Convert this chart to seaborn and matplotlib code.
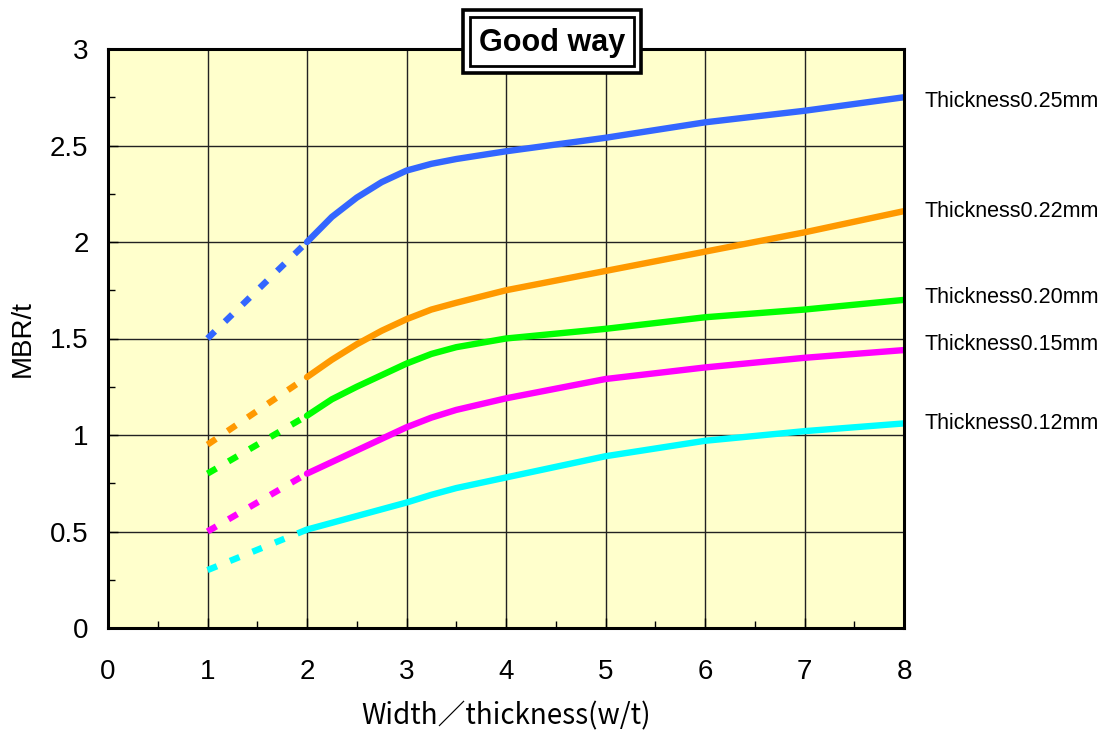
import numpy as np
import pandas as pd
import matplotlib
matplotlib.use('Agg')
import matplotlib.pyplot as plt
import seaborn as sns
from matplotlib.ticker import MultipleLocator
from matplotlib.patches import Rectangle

# =========================
# DATA
# =========================
x_solid = [2.0, 2.25, 2.5, 2.75, 3.0, 3.25, 3.5, 4.0, 5.0, 6.0, 7.0, 8.0]
t025 = [2.00, 2.13, 2.23, 2.31, 2.37, 2.405, 2.43, 2.47, 2.54, 2.62, 2.68, 2.75]
t022 = [1.30, 1.39, 1.47, 1.54, 1.60, 1.65, 1.685, 1.75, 1.85, 1.95, 2.05, 2.16]
t020 = [1.10, 1.185, 1.25, 1.31, 1.37, 1.42, 1.455, 1.50, 1.55, 1.61, 1.65, 1.70]
t015 = [0.80, 0.86, 0.92, 0.98, 1.04, 1.09, 1.13, 1.19, 1.29, 1.35, 1.40, 1.44]
t012 = [0.51, 0.545, 0.58, 0.615, 0.65, 0.69, 0.725, 0.78, 0.89, 0.97, 1.02, 1.06]

x_dash = [1.0, 2.0]
dash_start = [1.50, 0.95, 0.80, 0.50, 0.30]

labels = ["Thickness0.25mm", "Thickness0.22mm", "Thickness0.20mm",
          "Thickness0.15mm", "Thickness0.12mm"]
label_y = [2.73, 2.16, 1.71, 1.47, 1.06]
colors = ["#3366FF", "#FF9900", "#00FF00", "#FF00FF", "#00FFFF"]
series = [t025, t022, t020, t015, t012]

# =========================
# FIGURE
# =========================
sns.set_style("ticks")
plt.rcParams['font.family'] = ['Liberation Sans', 'DejaVu Sans']
plt.rcParams['text.color'] = 'black'
plt.rcParams['axes.labelcolor'] = 'black'
plt.rcParams['xtick.color'] = 'black'
plt.rcParams['ytick.color'] = 'black'

fig = plt.figure(figsize=(11.16, 7.4), dpi=100)
ax = fig.add_axes([108 / 1116, 1 - 628 / 740, 796 / 1116, 579 / 740])
ax.set_facecolor("#FFFFCC")

for ys, y0, col, lab, ly in zip(series, dash_start, colors, labels, label_y):
    # measured part (solid)
    sns.lineplot(x=x_solid, y=ys, color=col, lw=4.6, ax=ax, zorder=3)
    # extrapolated part (dashed)
    sns.lineplot(x=x_dash, y=[y0, ys[0]], color=col, lw=4.6, ax=ax, zorder=3,
                 linestyle=(0, (1.6, 2.2)))
    ax.text(8.21, ly, lab, fontsize=15.5, va='center', ha='left', clip_on=False)

ax.set_xlim(0, 8)
ax.set_ylim(0, 3)
ax.xaxis.set_major_locator(MultipleLocator(1))
ax.xaxis.set_minor_locator(MultipleLocator(0.5))
ax.yaxis.set_minor_locator(MultipleLocator(0.25))
ax.set_yticks([0, 0.5, 1, 1.5, 2, 2.5, 3])
ax.set_yticklabels(["0", "0.5", "1", "1.5", "2", "2.5", "3"])
ax.grid(True, which='major', color='#222222', lw=1.0, zorder=1)
ax.tick_params(which='major', direction='in', length=7, width=1)
ax.tick_params(which='minor', direction='in', length=5, width=1)
ax.tick_params(axis='y', labelsize=20, pad=14)
ax.tick_params(axis='x', labelsize=20, pad=22)
for sp in ax.spines.values():
    sp.set_linewidth(2.2)
    sp.set_color('black')
    sp.set_zorder(4)

ax.set_ylabel("MBR/t", fontsize=20, labelpad=10)
ax.set_xlabel("Width／thickness(w/t)", fontsize=20, labelpad=12,
              family=['Noto Sans CJK JP', 'DejaVu Sans'])

# =========================
# TITLE WITH DOUBLE FRAME
# =========================
fig.add_artist(Rectangle((463 / 1116, 1 - 73 / 740), 178 / 1116, 63 / 740,
                         transform=fig.transFigure, fc='white', ec='black',
                         lw=2.6, zorder=5))
fig.add_artist(Rectangle((470 / 1116, 1 - 66 / 740), 164 / 1116, 49 / 740,
                         transform=fig.transFigure, fc='white', ec='black',
                         lw=2.0, zorder=6))
fig.text(552 / 1116, 1 - 43 / 740, "Good way", fontsize=22, fontweight='bold',
         ha='center', va='center', zorder=7)

fig.savefig("out.png", dpi=100, facecolor='white')
